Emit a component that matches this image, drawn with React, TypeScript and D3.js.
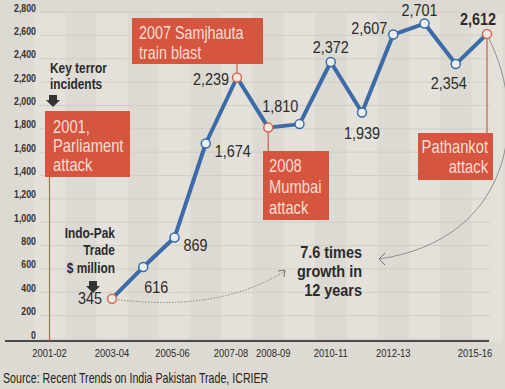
import React from "react";
import * as d3 from "d3";

const allYears = ["2001-02","2002-03","2003-04","2004-05","2005-06","2006-07","2007-08","2008-09","2009-10","2010-11","2011-12","2012-13","2013-14","2014-15","2015-16"];
const tradeYears = ["2003-04","2004-05","2005-06","2006-07","2007-08","2008-09","2009-10","2010-11","2011-12","2012-13","2013-14","2014-15","2015-16"];
const tradeValues = [345, 616, 869, 1674, 2239, 1810, 1840, 2372, 1939, 2607, 2701, 2354, 2612];
const tradeLabels = ["345","616","869","1,674","2,239","1,810","","2,372","1,939","2,607","2,701","2,354","2,612"];
const eventYears = ["2003-04","2007-08","2008-09","2015-16"];
const xTickLabels = ["2001-02","2003-04","2005-06","2007-08","2008-09","2010-11","2012-13","2015-16"];
const yTicks = [0,200,400,600,800,1000,1200,1400,1600,1800,2000,2200,2400,2600,2800];

const W = 505, H = 389;
const FONT = "'Liberation Sans',Arial,sans-serif";
const BLUE = "#3b6ca8";
const RED = "#d6553f";
const BOXTEXT = "#f9dfd3";
const INK = "#2b2b2b";

// label placement relative to its point: [dx, dy, anchor]
const labelPlace: [number, number, string][] = [
  [-10, 0, "end"], [1, 20, "start"], [9, 8, "start"], [9, 8, "start"], [-8, 2, "end"],
  [-6, -21, "start"], [0, 0, "middle"], [0, -15, "middle"], [0, 21, "middle"], [-6, -6, "end"],
  [-5, -13, "middle"], [-7, 19, "middle"], [-9, -15, "middle"],
];
const xTickDx = [0, 0, -2, -6, 5, 0, 0, -12];

type TP = { x: number; y: number; s?: number; anchor?: string; size: number; weight?: string; fill?: string; children: React.ReactNode };
function T({ x, y, s = 0.82, anchor = "start", size, weight = "normal", fill = INK, children }: TP) {
  return (
    <text transform={`translate(${x},${y}) scale(${s},1)`} dy="0.35em" textAnchor={anchor}
      fontSize={size} fontWeight={weight} fill={fill}>{children}</text>
  );
}

export default function App() {
  const x = d3.scalePoint<string>().domain(allYears).range([49.5, 487]);
  const y = d3.scaleLinear().domain([0, 2800]).range([339, 12]);
  const step = x.step();
  const pts = tradeYears.map((yr, i) => ({ yr, v: tradeValues[i], lab: tradeLabels[i], px: x(yr)!, py: y(tradeValues[i]) }));
  const line = d3.line<{ px: number; py: number }>().x(d => d.px).y(d => d.py);
  const axisY = y(0) + 2;

  const p345 = pts[0];
  const p2239 = pts[4];
  const p1810 = pts[5];
  const p2612 = pts[12];

  const lowerCurve = d3.path();
  lowerCurve.moveTo(p345.px + 6, p345.py + 1);
  lowerCurve.quadraticCurveTo(220, 312, 285, 271);
  const upperCurve = d3.path();
  upperCurve.moveTo(p2612.px + 2, p2612.py + 5);
  upperCurve.bezierCurveTo(530, 120, 510, 240, 379, 259);

  return (
    <svg width={W} height={H} style={{ position: "absolute", left: 0, top: 0 }} fontFamily={FONT}>
      <rect x={0} y={0} width={W} height={H} fill="#dcdad3" />
      {allYears.map((yr, i) => i % 2 === 0 ? (
        <rect key={yr} x={x(yr)! - step / 2} y={14} width={step} height={axisY - 14} fill="#e3e1da" />
      ) : null)}
      {yTicks.map(t => (
        <line key={"g" + t} x1={40} x2={490} y1={y(t)} y2={y(t)} stroke="#d0cec7" strokeWidth={1} />
      ))}
      {yTicks.map(t => (
        <T key={"t" + t} x={36} y={y(t) - 4} anchor="end" size={10} s={0.88} weight="bold" fill="#333">
          {d3.format(",")(t)}
        </T>
      ))}
      {/* axis */}
      <line x1={5} x2={489} y1={axisY} y2={axisY} stroke="#4a4a4a" strokeWidth={2} />
      {xTickLabels.map((t, i) => (
        <T key={t} x={x(t)! + xTickDx[i]} y={353} anchor="middle" size={11.5} fill={INK}>{t}</T>
      ))}
      <T x={3} y={378} size={14} s={0.76} fill="#222">Source: Recent Trends on India Pakistan Trade, ICRIER</T>

      {/* 2001 parliament */}
      <line x1={x("2001-02")!} x2={x("2001-02")!} y1={177} y2={axisY} stroke="#c8604a" strokeWidth={1.2} />
      <T x={50} y={68} size={14} s={0.85} weight="bold">Key terror</T>
      <T x={50} y={84} size={14} s={0.85} weight="bold">incidents</T>
      <path d="M49,95 h8 v5 h3 l-7,7 l-7,-7 h3 z" fill="#333" />
      <rect x={45} y={111} width={85} height={66} fill={RED} />
      {["2001,", "Parliament", "attack"].map((s, i) => (
        <T key={s} x={53} y={127 + i * 19} size={18} fill={BOXTEXT}>{s}</T>
      ))}

      {/* 2007 Samjhauta */}
      <line x1={p2239.px} x2={p2239.px} y1={64} y2={p2239.py} stroke="#c8604a" strokeWidth={1.2} />
      <rect x={132} y={18} width={131} height={46} fill={RED} />
      {["2007 Samjhauta", "train blast"].map((s, i) => (
        <T key={s} x={139} y={33 + i * 20} size={17.5} fill={BOXTEXT}>{s}</T>
      ))}

      {/* 2008 Mumbai */}
      <line x1={p1810.px} x2={p1810.px} y1={p1810.py} y2={151} stroke="#c8604a" strokeWidth={1.2} />
      <rect x={263} y={151} width={66} height={69} fill={RED} />
      {["2008", "Mumbai", "attack"].map((s, i) => (
        <T key={s} x={269} y={166 + i * 21} size={18} fill={BOXTEXT}>{s}</T>
      ))}

      {/* Pathankot */}
      <line x1={p2612.px} x2={p2612.px} y1={p2612.py} y2={133} stroke="#c8604a" strokeWidth={1.2} />
      <rect x={418} y={133} width={75} height={47} fill={RED} />
      {["Pathankot", "attack"].map((s, i) => (
        <T key={s} x={488} y={147 + i * 20} anchor="end" size={18} fill={BOXTEXT}>{s}</T>
      ))}

      {/* Indo-Pak trade label */}
      {["Indo-Pak", "Trade", "$ million"].map((s, i) => (
        <T key={s} x={115} y={233 + i * 17.5} anchor="end" size={14} s={0.85} weight="bold">{s}</T>
      ))}
      <path d="M89,281 h8 v5 h3 l-7,7 l-7,-7 h3 z" fill="#333" />

      {/* growth annotation */}
      <path d={lowerCurve.toString()} fill="none" stroke="#777" strokeWidth={0.9} strokeDasharray="1.5,1.5" />
      <path d="M278,271 L285,270 L284,277" fill="none" stroke="#666" strokeWidth={0.9} />
      <path d={upperCurve.toString()} fill="none" stroke="#888" strokeWidth={0.9} />
      <path d="M385,253 L379,259 L385,265" fill="none" stroke="#666" strokeWidth={0.9} />
      {["7.6 times", "growth in", "12 years"].map((s, i) => (
        <T key={s} x={362} y={252 + i * 19} anchor="end" size={17} s={0.85} weight="bold">{s}</T>
      ))}

      {/* line */}
      <path d={line(pts) || ""} fill="none" stroke={BLUE} strokeWidth={4} strokeLinejoin="round" />
      {pts.map(p => {
        const ev = eventYears.includes(p.yr);
        return (
          <circle key={p.yr} cx={p.px} cy={p.py} r={4.5} fill={ev ? "#f0e8e2" : "#e8eef1"} stroke={ev ? "#d9694f" : BLUE} strokeWidth={1.5} />
        );
      })}
      {pts.map((p, i) => p.lab ? (
        <T key={"l" + p.yr} x={p.px + labelPlace[i][0]} y={p.py + labelPlace[i][1]} anchor={labelPlace[i][2]}
          size={16} s={0.9} weight={i === 12 ? "bold" : "normal"}>{p.lab}</T>
      ) : null)}
    </svg>
  );
}
